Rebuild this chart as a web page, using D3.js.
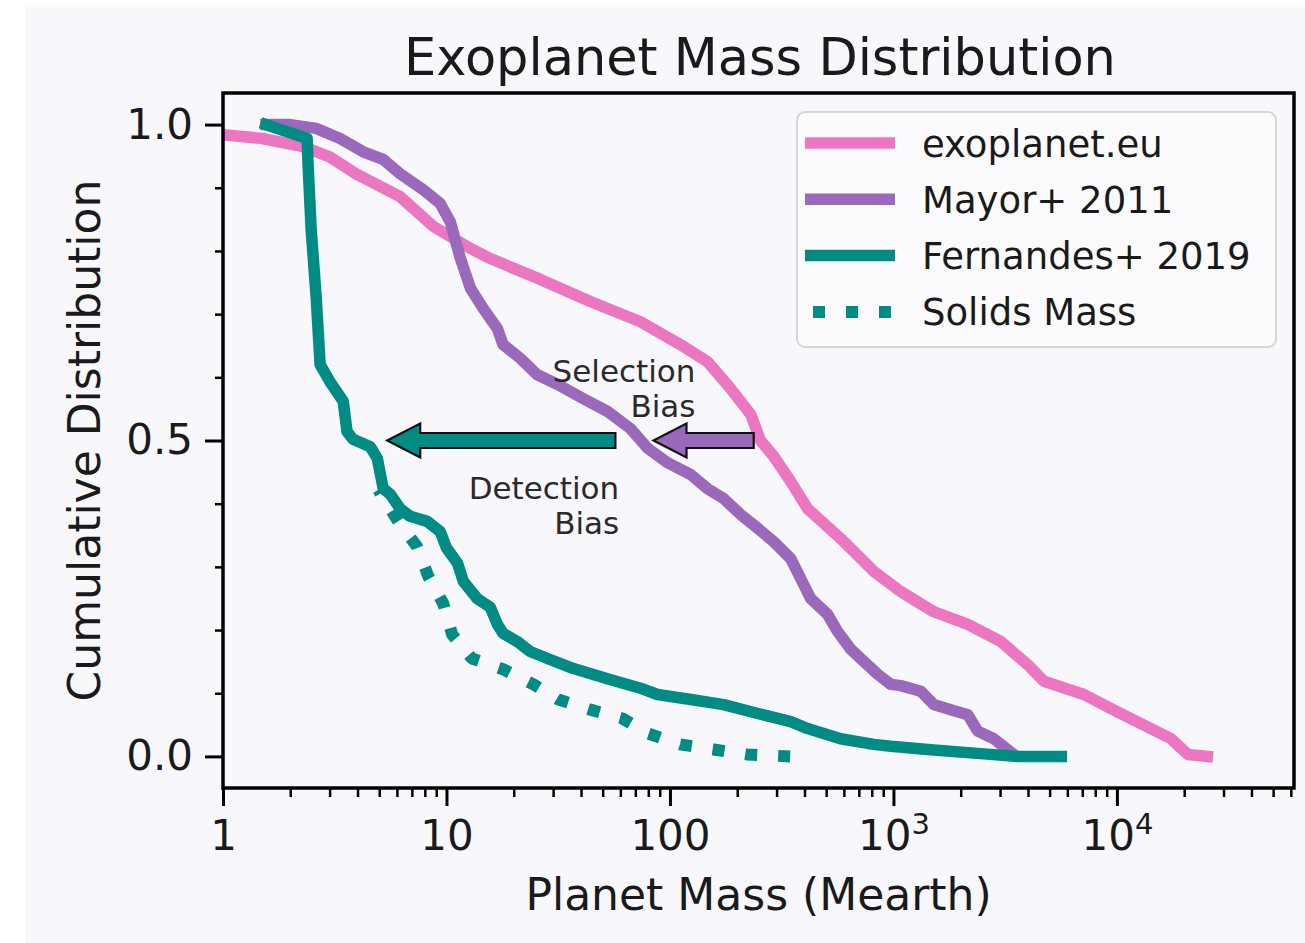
<!DOCTYPE html>
<html>
<head>
<meta charset="utf-8">
<script src="https://cdn.jsdelivr.net/npm/d3@7"></script>
<style>
  html, body { margin: 0; padding: 0; background: #ffffff; }
  svg { display: block; }
  text { font-family: "DejaVu Sans", sans-serif; fill: #1a1a1a; }
</style>
</head>
<body>
<svg id="chart" width="1305" height="943"></svg>
<script>
// ---- Cumulative mass distributions (mass in Earth masses, fraction above) ----
const exoMass = [0.6, 1, 1.5, 2.28, 3.0, 3.94, 6.2, 8.72, 12.5, 15.7, 26.3, 44, 73.8, 111, 147, 187, 230, 254, 291, 347, 413, 580, 816, 1077, 1514, 2152, 3020, 3993, 4710, 7117, 10000, 14190, 17460, 20790, 25400];
const exoCdf  = [0.99, 0.984, 0.978, 0.965, 0.949, 0.922, 0.886, 0.839, 0.806, 0.788, 0.755, 0.72, 0.688, 0.652, 0.625, 0.582, 0.541, 0.50, 0.475, 0.435, 0.392, 0.345, 0.293, 0.261, 0.229, 0.209, 0.182, 0.145, 0.119, 0.098, 0.071, 0.044, 0.028, 0.003, 0.0];

const mayorMass = [1.557, 2.0, 2.61, 3.34, 4.24, 5.21, 6.21, 7.87, 9.37, 10.4, 11.5, 12.8, 14.6, 16.9, 17.9, 21.4, 25.5, 31.3, 41, 52.5, 66.5, 79.3, 97.4, 124, 147, 174, 207, 247, 291, 347, 384, 426, 507, 562, 643, 713, 850, 973, 1077, 1325, 1514, 1804, 2152, 2383, 2812, 3400];
const mayorCdf  = [1.0, 1.0, 0.994, 0.978, 0.957, 0.945, 0.922, 0.897, 0.875, 0.846, 0.79, 0.741, 0.709, 0.677, 0.652, 0.63, 0.604, 0.589, 0.566, 0.546, 0.519, 0.488, 0.465, 0.446, 0.424, 0.408, 0.383, 0.361, 0.34, 0.313, 0.282, 0.25, 0.225, 0.198, 0.17, 0.155, 0.13, 0.114, 0.112, 0.103, 0.082, 0.074, 0.066, 0.04, 0.028, 0.005];

const fernMass = [1.557, 2.38, 2.40, 2.48, 2.61, 2.72, 3.01, 3.45, 3.59, 3.82, 4.56, 4.9, 5.21, 5.6, 6.21, 6.88, 8.2, 9.37, 10.0, 11.2, 11.9, 13.7, 15.7, 16.9, 17.9, 20.7, 23.7, 28.3, 37, 52.5, 73.8, 87.9, 124, 174, 247, 347, 413, 580, 816, 973, 1514, 2535, 3604, 5640];
const fernCdf  = [1.0, 0.978, 0.94, 0.834, 0.728, 0.62, 0.593, 0.562, 0.514, 0.502, 0.49, 0.472, 0.424, 0.415, 0.392, 0.38, 0.372, 0.356, 0.33, 0.306, 0.277, 0.25, 0.236, 0.209, 0.195, 0.182, 0.166, 0.155, 0.139, 0.123, 0.108, 0.098, 0.09, 0.082, 0.068, 0.055, 0.044, 0.028, 0.019, 0.016, 0.01, 0.004, 0.0, 0.0];

const solidsMass = [4.95, 6.08, 7.39, 8.29, 9.67, 10.6, 13.0, 17.9, 24.5, 31.7, 44.0, 61.3, 80.1, 111, 157, 222, 345];
const solidsCdf  = [0.422, 0.372, 0.332, 0.285, 0.242, 0.193, 0.155, 0.138, 0.114, 0.09, 0.074, 0.06, 0.036, 0.019, 0.011, 0.003, 0.0];

// ---- Axis ticks ----
const xTicks = [1, 10, 100, 1000, 10000];
const xTickLabels = ["1", "10", "100", "10^3", "10^4"];
const yTicks = [0, 0.5, 1.0];
const yTickLabels = ["0.0", "0.5", "1.0"];

// ---- Legend and annotations ----
const seriesNames = ["exoplanet.eu", "Mayor+ 2011", "Fernandes+ 2019", "Solids Mass"];
const biasArrows = [
  { from: 57, to: 5.43, at: 0.5, key: "fern" },
  { from: 237, to: 84.4, at: 0.5, key: "mayor" }
];
const biasNotes = [
  { lines: ["Selection", "Bias"], mass: 130, cdf: 0.593 },
  { lines: ["Detection", "Bias"], mass: 59.3, cdf: 0.408 }
];

// ---- Styling ----
const colors = { exo: "#ec77c0", mayor: "#9a69bb", fern: "#008b84" };
const lineW = 11.5;
const dotOn = 12, dotOff = 21;

const svg = d3.select("#chart");
const plot = { left: 223, right: 1294, top: 93, bottom: 788 };

// figure panel
svg.append("rect").attr("x", 25).attr("y", 7).attr("width", 1280).attr("height", 936).attr("fill", "#f8f8fc");

const x = d3.scaleLog().domain([1, 6.2e4]).range([plot.left, plot.right]);
const y = d3.scaleLinear().domain([-0.05, 1.05]).range([plot.bottom, plot.top]);

svg.append("clipPath").attr("id", "plotclip")
  .append("rect").attr("x", plot.left).attr("y", plot.top)
  .attr("width", plot.right - plot.left).attr("height", plot.bottom - plot.top);

const line = d3.line().x(d => x(d[0])).y(d => y(d[1]));
const zip = (a, b) => a.map((v, i) => [v, b[i]]);

const curves = svg.append("g").attr("clip-path", "url(#plotclip)");
const series = [
  { pts: zip(exoMass, exoCdf), color: colors.exo, dotted: false },
  { pts: zip(mayorMass, mayorCdf), color: colors.mayor, dotted: false },
  { pts: zip(fernMass, fernCdf), color: colors.fern, dotted: false },
  { pts: zip(solidsMass, solidsCdf), color: colors.fern, dotted: true }
];
series.forEach(s => {
  const p = curves.append("path")
    .attr("d", line(s.pts))
    .attr("fill", "none")
    .attr("stroke", s.color)
    .attr("stroke-width", s.dotted ? 12 : lineW)
    .attr("stroke-linejoin", "round")
    .attr("stroke-linecap", s.dotted ? "butt" : "square");
  if (s.dotted) {
    // phase the dot pattern so the line closes on a whole dot
    const period = dotOn + dotOff;
    const len = p.node().getTotalLength();
    const off = (((dotOn - len) % period) + period) % period;
    p.attr("stroke-dasharray", `${dotOn},${dotOff}`).attr("stroke-dashoffset", off);
  }
});

// bias arrows
const shaftHalf = 7.5, headHalf = 17, headLen = 33;
biasArrows.forEach(a => {
  const tx = x(a.to), ty = y(a.at), ex = x(a.from);
  const hb = tx + headLen;
  const pts = [
    [tx, ty], [hb, ty - headHalf], [hb, ty - shaftHalf], [ex, ty - shaftHalf],
    [ex, ty + shaftHalf], [hb, ty + shaftHalf], [hb, ty + headHalf]
  ];
  svg.append("polygon")
    .attr("points", pts.map(p => p.join(",")).join(" "))
    .attr("fill", colors[a.key])
    .attr("stroke", "#111")
    .attr("stroke-width", 2.2)
    .attr("stroke-linejoin", "miter");
});

biasNotes.forEach(n => {
  const t = svg.append("text")
    .attr("x", x(n.mass)).attr("y", y(n.cdf))
    .attr("text-anchor", "end")
    .style("font-size", "31px").style("fill", "#2a2a2a");
  n.lines.forEach((l, i) => {
    t.append("tspan").attr("x", x(n.mass)).attr("dy", i === 0 ? 0 : 35).text(l);
  });
});

// frame
svg.append("rect")
  .attr("x", plot.left).attr("y", plot.top)
  .attr("width", plot.right - plot.left).attr("height", plot.bottom - plot.top)
  .attr("fill", "none").attr("stroke", "#000").attr("stroke-width", 3.5);

// x axis
const xMinor = [];
for (let d = 0; d <= 4; d++) for (let k = 2; k <= 9; k++) {
  const v = k * Math.pow(10, d);
  if (v < 6.2e4) xMinor.push(v);
}
const gxMinor = svg.append("g").attr("transform", `translate(0,${plot.bottom})`)
  .call(d3.axisBottom(x).tickValues(xMinor).tickSize(9).tickFormat(""));
const gx = svg.append("g").attr("transform", `translate(0,${plot.bottom})`)
  .call(d3.axisBottom(x).tickValues(xTicks).tickSize(18).tickPadding(14)
        .tickFormat((d, i) => xTickLabels[i]));

// y axis
const yMinor = d3.range(1, 10).map(k => k / 10).filter(v => Math.abs(v - 0.5) > 1e-9);
const gyMinor = svg.append("g").attr("transform", `translate(${plot.left},0)`)
  .call(d3.axisLeft(y).tickValues(yMinor).tickSize(8).tickFormat(""));
const gy = svg.append("g").attr("transform", `translate(${plot.left},0)`)
  .call(d3.axisLeft(y).tickValues(yTicks).tickSize(18).tickPadding(12)
        .tickFormat((d, i) => yTickLabels[i]));

[gx, gy, gxMinor, gyMinor].forEach(g => {
  g.select(".domain").remove();
  g.selectAll(".tick line").attr("stroke", "#000");
});
[gx, gy].forEach(g => g.selectAll(".tick line").attr("stroke-width", 3));
[gxMinor, gyMinor].forEach(g => g.selectAll(".tick line").attr("stroke-width", 2.5));

gy.selectAll(".tick text")
  .style("font-size", "42px").style("font-family", "DejaVu Sans").style("fill", "#1a1a1a");

gx.selectAll(".tick text")
  .style("font-size", "42px").style("font-family", "DejaVu Sans").style("fill", "#1a1a1a")
  .each(function (d, i) {
    const lab = xTickLabels[i];
    const sel = d3.select(this);
    if (lab.includes("^")) {
      const [base, exp] = lab.split("^");
      sel.text(null);
      sel.append("tspan").text(base);
      sel.append("tspan").attr("dy", "-0.55em").style("font-size", "29px").text(exp);
    }
  });

// axis titles
svg.append("text")
  .attr("x", (plot.left + plot.right) / 2).attr("y", 910)
  .attr("text-anchor", "middle").style("font-size", "44px")
  .text("Planet Mass (Mearth)");
svg.append("text")
  .attr("transform", `translate(100,${(plot.top + plot.bottom) / 2}) rotate(-90)`)
  .attr("text-anchor", "middle").style("font-size", "44px")
  .text("Cumulative Distribution");
svg.append("text")
  .attr("x", 760).attr("y", 75)
  .attr("text-anchor", "middle").style("font-size", "51px")
  .text("Exoplanet Mass Distribution");

// legend
const lg = svg.append("g");
lg.append("rect")
  .attr("x", 797).attr("y", 112).attr("width", 479).attr("height", 235)
  .attr("rx", 8).attr("ry", 8)
  .attr("fill", "#fbfbfd").attr("fill-opacity", 0.85)
  .attr("stroke", "#d6d6d8").attr("stroke-width", 2);
const legendColors = [colors.exo, colors.mayor, colors.fern, colors.fern];
seriesNames.forEach((name, i) => {
  const ly = 143 + i * 56.3;
  lg.append("line")
    .attr("x1", 805).attr("x2", 895).attr("y1", ly).attr("y2", ly)
    .attr("stroke", legendColors[i])
    .attr("stroke-width", i === 3 ? 12 : lineW)
    .attr("stroke-dasharray", i === 3 ? `${dotOn},${dotOff}` : null)
    .attr("stroke-dashoffset", i === 3 ? -8 : null);
  lg.append("text")
    .attr("x", 922).attr("y", ly + 13.5)
    .style("font-size", "37px")
    .text(name);
});
</script>
</body>
</html>
